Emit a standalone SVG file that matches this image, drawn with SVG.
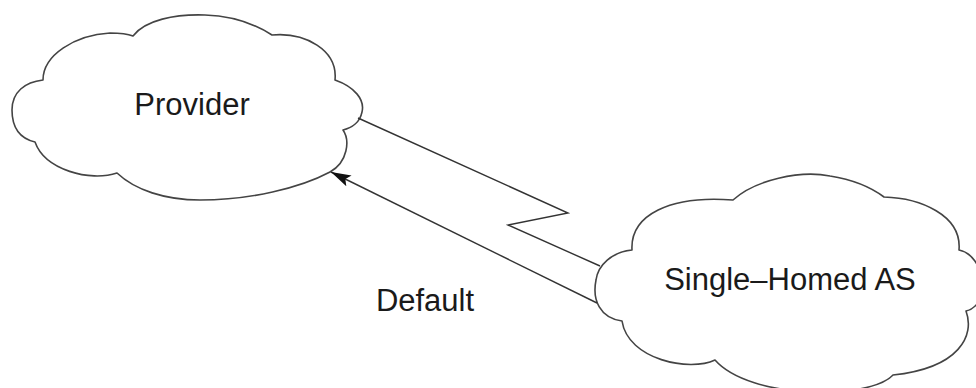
<svg xmlns="http://www.w3.org/2000/svg" width="976" height="388" viewBox="0 0 976 388">
<style>
.cloud{fill:#fff;stroke:#444;stroke-width:1.6;stroke-linejoin:round}
.lbl{font-family:"Liberation Sans",Arial,sans-serif;font-size:31px;fill:#1a1a1a;text-anchor:middle}
.wire{fill:none;stroke:#333;stroke-width:1.4;stroke-linejoin:miter}
</style>
<defs>
<marker id="ah" markerWidth="22" markerHeight="14" refX="20" refY="7" orient="auto" markerUnits="userSpaceOnUse">
<path d="M0,1 L20,7 L0,13 L4,7 Z" fill="#111"/>
</marker>
</defs>
<rect width="976" height="388" fill="#fff"/>
<g id="provider">
<path class="cloud" d="M133,36 C145,20 175,14 205,15 C235,16 255,24 272,35 C305,32 338,50 335,80 C355,87 365,100 362,112 C360,122 352,128 343,130 C350,140 348,162 330,172 C300,188 250,200 200,200 C165,200 135,190 117,173 C90,182 45,170 35,142 C18,138 12,125 12,110 C12,92 25,82 43,80 C43,55 75,35 110,33 C120,33 128,34 133,36 Z"/>
<text class="lbl" x="192" y="115">Provider</text>
</g>
<g id="single-homed-as">
<path class="cloud" d="M733,200 C755,180 800,170 830,176 C855,180 872,188 884,197 C920,198 962,215 959,250 C985,255 992,305 966,311 C975,335 960,368 893,375 C870,400 750,400 715,360 C690,372 628,360 622,321 C600,318 592,300 596,280 C598,265 612,252 632,250 C630,215 670,195 733,200 Z"/>
<text class="lbl" x="790" y="290">Single–Homed AS</text>
</g>
<g id="connectors">
<polyline class="wire" points="358,118 568,213 508,225 600,266"/>
<line class="wire" x1="597" y1="303" x2="331" y2="172" marker-end="url(#ah)"/>
<text class="lbl" x="425" y="311">Default</text>
</g>
</svg>
